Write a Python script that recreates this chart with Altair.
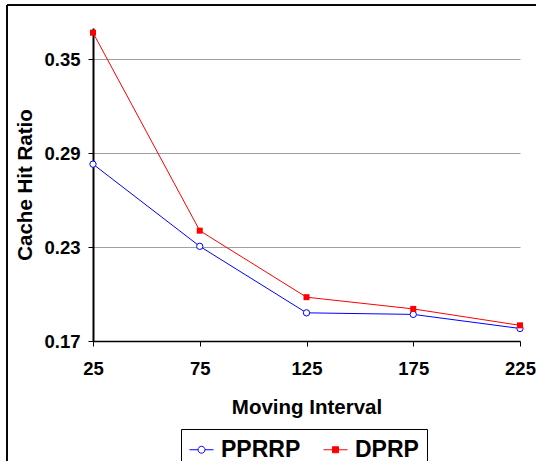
import altair as alt
import pandas as pd

intervals = [25, 75, 125, 175, 225]
pprrp = [0.283, 0.2305, 0.188, 0.187, 0.178]
dprp = [0.367, 0.2405, 0.198, 0.1905, 0.180]
series_names = ["PPRRP", "DPRP"]
y_ticks = [0.17, 0.23, 0.29, 0.35]

FONT = "Liberation Sans"

df_p = pd.DataFrame({"interval": intervals, "ratio": pprrp, "series": "PPRRP"})
df_d = pd.DataFrame({"interval": intervals, "ratio": dprp, "series": "DPRP"})

x_enc = alt.X("interval:Q",
              scale=alt.Scale(domain=[25, 225], nice=False, zero=False),
              axis=alt.Axis(values=intervals, title="Moving Interval", grid=False,
                            labelFontSize=18.5, labelFont=FONT, labelFontWeight="bold",
                            labelColor="black", labelPadding=13, tickSize=5,
                            tickColor="black", domainColor="black", domainWidth=1.5,
                            titleFontSize=20.5, titleFont=FONT, titleFontWeight="bold",
                            titlePadding=20, labelFlush=False))
y_enc = alt.Y("ratio:Q",
              scale=alt.Scale(domain=[0.17, 0.37], nice=False, zero=False),
              axis=alt.Axis(values=y_ticks, format=".2f", title="Cache Hit Ratio",
                            grid=True, gridColor="#a0a0a0", gridWidth=1,
                            labelFontSize=18.5, labelFont=FONT, labelFontWeight="bold",
                            labelColor="black", labelPadding=8, tickSize=5,
                            tickColor="black", domainColor="black", domainWidth=2,
                            titleFontSize=20.5, titleFont=FONT, titleFontWeight="bold",
                            titlePadding=8, labelFlush=False))

line_p = alt.Chart(df_p).mark_line(color="blue", strokeWidth=1).encode(x=x_enc, y=y_enc)
pts_p = alt.Chart(df_p).mark_point(shape="circle", size=40, fill="white", stroke="blue",
                                   strokeWidth=1, opacity=1, filled=False).encode(x="interval:Q", y="ratio:Q")
line_d = alt.Chart(df_d).mark_line(color="red", strokeWidth=1).encode(x="interval:Q", y="ratio:Q")
pts_d = alt.Chart(df_d).mark_square(size=36, color="red", opacity=1).encode(x="interval:Q", y="ratio:Q")

blue_path = "M-1,0H-0.29M0.29,0H1M0.29,0A0.29,0.29 0 1,1 -0.29,0A0.29,0.29 0 1,1 0.29,0Z"
red_path = "M-1,0H1M-0.25,-0.25H0.25V0.25H-0.25Z"

legend_layer = alt.Chart(df_p).mark_point(opacity=1, strokeWidth=1).encode(
    x="interval:Q", y="ratio:Q",
    shape=alt.Shape("series:N", scale=alt.Scale(domain=series_names, range=[blue_path, red_path]),
                    legend=alt.Legend(orient="none", legendX=88, legendY=401, direction="horizontal",
                                      title=None, strokeColor="black", padding=8,
                                      symbolSize=576, symbolStrokeWidth=1, symbolOpacity=1,
                                      labelFont=FONT, labelFontSize=23, labelFontWeight="bold",
                                      labelColor="black", labelOffset=7, columnPadding=20,
                                      fillColor="white")),
    stroke=alt.Stroke("series:N", scale=alt.Scale(domain=series_names, range=["blue", "red"])),
    fill=alt.Fill("series:N", scale=alt.Scale(domain=series_names, range=["white", "red"])),
).transform_filter("false")

frame = alt.Chart(df_p).mark_rect(fill=None, stroke="black", strokeWidth=1, clip=False).encode(
    x=alt.value(-86), x2=alt.value(460), y=alt.value(-23), y2=alt.value(500))

chart = alt.layer(frame, line_p, line_d, pts_p, pts_d, legend_layer).properties(
    width=427, height=313,
    autosize=alt.AutoSizeParams(type="none"),
    padding={"left": 93, "top": 28, "right": 16, "bottom": 120},
    background="white",
).configure_view(stroke=None)

chart.save("out.html", embed_options={"renderer": "svg", "actions": False})
